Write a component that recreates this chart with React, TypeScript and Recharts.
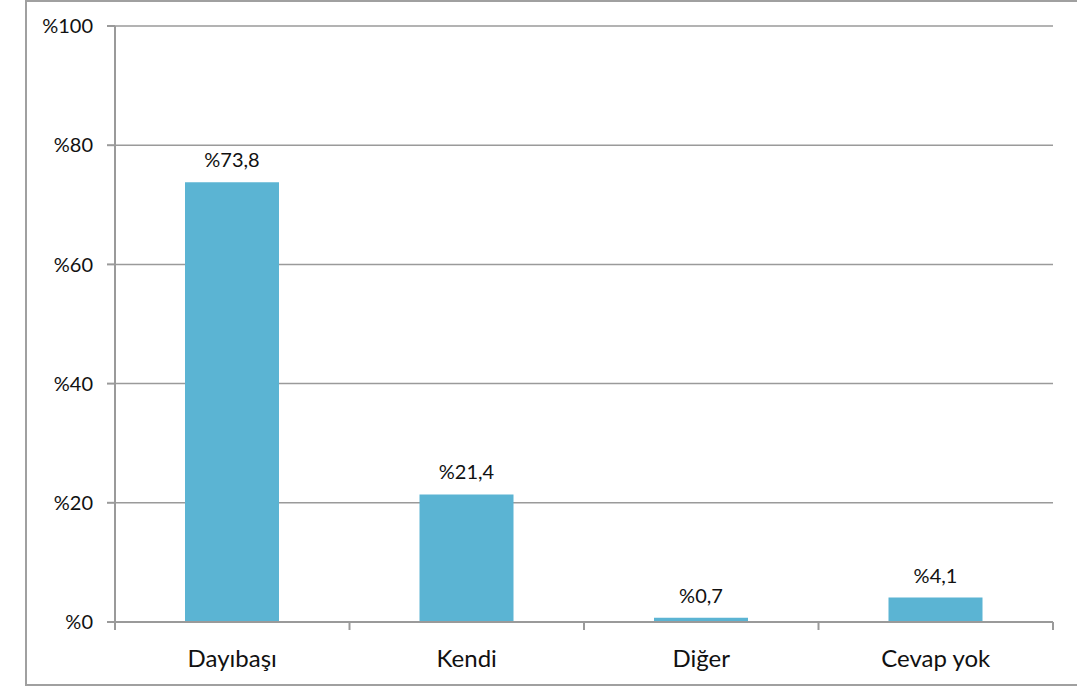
import { BarChart, Bar, XAxis, YAxis, CartesianGrid, LabelList } from 'recharts';

const categories = ['Dayıbaşı', 'Kendi', 'Diğer', 'Cevap yok'];
const values = [73.8, 21.4, 0.7, 4.1];
const yTicks = [0, 20, 40, 60, 80, 100];

const data = categories.map((name, i) => ({ name, value: values[i] }));

const FONT = 'Lato, "Open Sans", sans-serif';
const AXIS = '#9a9a9a';

const fmt = (v: number) => '%' + String(v).replace('.', ',');

function XTick(props: any) {
  const { x, y, payload, index, visibleTicksCount } = props;
  const half = payload?.offset ?? 117;
  const top = y - 8;
  return (
    <g>
      <line x1={x - half} y1={top} x2={x - half} y2={top + 8} stroke={AXIS} strokeWidth={2} />
      {index === (visibleTicksCount ?? 4) - 1 && (
        <line x1={x + half} y1={top} x2={x + half} y2={top + 8} stroke={AXIS} strokeWidth={2} />
      )}
      <text x={x} y={y + 37} textAnchor="middle" fontSize={24} fill="#111" fontFamily={FONT}>
        {payload.value}
      </text>
    </g>
  );
}

export default function App() {
  return (
    <div style={{ position: 'absolute', left: 0, top: 0, width: 1077, height: 688, background: '#fff', overflow: 'hidden' }}>
      <div
        style={{
          position: 'absolute',
          left: 25,
          top: 0,
          width: 1100,
          height: 686,
          borderLeft: '2px solid #a0a0a0',
          borderTop: '2px solid #a0a0a0',
          borderBottom: '2px solid #a0a0a0',
          boxSizing: 'border-box',
        }}
      />
      <div style={{ position: 'absolute', left: 0, top: 0 }}>
        <BarChart width={1077} height={688} data={data} margin={{ top: 26, right: 24, bottom: 0, left: 0 }}>
          <CartesianGrid vertical={false} stroke={AXIS} strokeWidth={1.5} />
          <XAxis
            dataKey="name"
            height={66}
            axisLine={{ stroke: AXIS, strokeWidth: 2 }}
            tickLine={false}
            tick={<XTick />}
            interval={0}
          />
          <YAxis
            width={115}
            domain={[0, 100]}
            ticks={yTicks}
            tickFormatter={(v) => '%' + v}
            axisLine={{ stroke: AXIS, strokeWidth: 2 }}
            tickLine={{ stroke: AXIS, strokeWidth: 2 }}
            tickSize={8}
            tickMargin={14}
            tick={{ fontSize: 20, fill: '#111', fontFamily: FONT }}
          />
          <Bar dataKey="value" fill="#5bb4d3" barSize={94} isAnimationActive={false}>
            <LabelList
              dataKey="value"
              position="top"
              offset={15}
              formatter={(v: any) => fmt(Number(v))}
              style={{ fontSize: 20, fill: '#111', fontFamily: FONT }}
            />
          </Bar>
        </BarChart>
      </div>
    </div>
  );
}
